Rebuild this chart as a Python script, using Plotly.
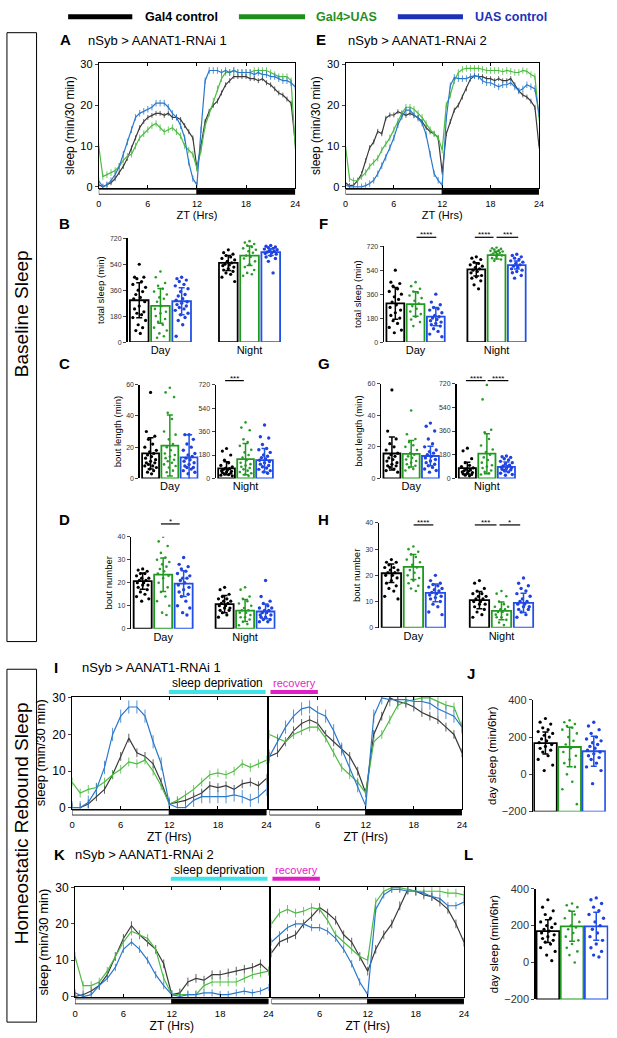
import plotly.graph_objects as go

# ---------------------------------------------------------------- data ----
ZT_HALF = [i / 2 for i in range(49)]   # 30-min bins ZT 0..24
ZT_HOUR = list(range(25))              # hourly readings ZT 0..24

# Panel A  (nSyb > AANAT1-RNAi 1, baseline)
A_gal4 = [0.5, 0, 0.5, 1, 2, 3.5, 5, 7, 9.5, 12, 14.5, 16, 17, 17.5, 18, 18, 17.5, 18, 17, 17,
          16.5, 15, 13.5, 12, 4.5, 10, 16, 18.5, 20, 21, 23, 25, 26, 27, 27, 27, 27, 26.5, 26.5, 26,
          26.5, 25.5, 25, 24, 23, 22.5, 21.5, 20.5, 11]
A_exp = [10, 2.5, 3, 3.5, 4, 5, 6.5, 7.5, 8, 10, 12, 13, 14, 15, 15.5, 14.5, 13.5, 14, 14.5, 13.5,
         12.5, 10, 9, 8, 4.5, 9, 15, 18, 21, 24, 26.5, 28, 28, 28.5, 28, 28, 28, 28, 28.5, 28.5,
         28.5, 28.5, 28, 27.5, 27, 27, 27, 26, 10]
A_uas = [1.5, 0, 0.5, 1.5, 3, 5, 8, 11, 14, 17, 18, 18.5, 19, 19.5, 20.5, 20.5, 20.5, 19.5, 18, 17,
         15, 12, 6, 2, 0.5, 14, 26, 28.5, 28.5, 28.5, 28, 28.5, 28, 28.5, 28, 28, 28, 28, 27.5, 28,
         27.5, 27.5, 27, 27, 26.5, 26, 26, 25.5, 24.5]
# Panel E  (nSyb > AANAT1-RNAi 2, baseline)
E_gal4 = [1, 0.3, 0.4, 1.5, 3.2, 6.4, 9.6, 11, 13.6, 13, 16.8, 17.6, 17.6, 18.4, 18, 17.5, 18, 17.5,
          17, 16, 14.5, 13.5, 13, 12, 3.5, 13, 16, 18.8, 20, 22, 24, 26.4, 27.2, 27, 27, 26.5, 26.5,
          26, 26.5, 26, 26, 26.5, 25, 23.5, 22.5, 22, 21, 19.5, 10]
E_exp = [10, 2, 1.5, 1.5, 2.5, 3.5, 5, 6, 7, 9, 10.5, 12, 14, 16, 18, 19.5, 19.5, 19, 18, 17, 15.5,
         14, 13, 12, 9, 20, 22.5, 26, 28, 28.8, 29, 29, 29, 29, 28.8, 28.5, 28.5, 28.5, 28.5, 28.2,
         28.5, 28.3, 28, 28, 28.5, 28.3, 27.5, 27, 17]
E_uas = [0.5, 0, 0, 0, 0, 0.3, 0.8, 1.6, 3.2, 5.2, 7.2, 9.6, 12, 15.2, 17.2, 18.8, 18.8, 17.6, 16.8,
         15.6, 12.8, 8, 3.2, 1.6, 0.4, 16.8, 24.8, 26.8, 26.5, 26.5, 26.5, 27, 27.2, 27, 26, 25.5,
         25.5, 25, 24.5, 25, 25, 25.5, 24.5, 23.5, 24, 25, 24.5, 24, 18]

# Panel I  (RNAi 1, baseline day + deprivation night | recovery day)
I1_gal4 = [0, 0, 1, 3, 5, 9, 14, 19, 15, 14, 12, 7, 1, 1.5, 2, 3, 4, 6, 5.5, 6, 5, 6.5, 7, 6, 8]
I1_exp = [7, 4, 5, 5.5, 7, 9, 10.5, 12.5, 12, 13, 10, 6, 1, 2, 3.5, 5, 7, 9, 9.5, 9, 10, 12, 11, 12, 13]
I1_uas = [0, 0, 1.5, 5, 11, 20, 25, 27.5, 27.5, 25, 18, 12, 1, 0, 0, 2, 3, 3, 3, 3, 3.5, 3, 2, 3, 5]
I2_gal4 = [14, 15, 18, 21, 23, 24, 23, 20, 18, 16, 14, 10, 4, 20, 25, 30, 29, 28.5, 27.5, 26, 25, 24, 22, 20, 15]
I2_exp = [20, 19, 18, 20, 21, 22, 22, 19, 15, 11, 9, 7, 4, 18, 20, 24, 28, 29, 29.5, 30, 30, 29, 28, 27.5, 22]
I2_uas = [14, 18, 22, 25, 27, 27.5, 26, 25, 21, 16, 11, 6, 0.5, 25, 30, 29.5, 29.5, 29.5, 29, 29, 28.5, 27, 26, 25, 22]
# Panel K  (RNAi 2)
K1_gal4 = [0, 0.5, 1.5, 3, 6, 11, 16, 19.5, 17, 15, 13, 9, 0.5, 1, 4, 5, 4.5, 6, 6, 6.5, 7, 7.5, 8, 9, 7]
K1_exp = [11, 3, 3, 4, 7, 11, 15, 18, 17, 16, 13, 5, 0.5, 0.5, 0.5, 0.5, 3, 4, 4, 4, 4, 5, 6, 6.5, 7]
K1_uas = [1, 0, 0.5, 3, 5, 8, 13, 15, 13, 10, 6, 3, 0.5, 0, 0.5, 0.5, 1, 1, 0.5, 0.5, 1, 1.5, 1, 1.5, 2.5]
K2_gal4 = [12, 15, 16, 17, 20, 22, 24.5, 23, 21, 17, 15, 11, 7, 13, 17, 20, 25, 29.5, 29, 28, 27.5, 26, 24, 20, 15]
K2_exp = [20, 23, 24, 23, 23.5, 24.5, 24, 21, 17, 15, 13, 11, 10, 26, 29, 30, 30, 29.5, 29, 29, 29, 29, 28.5, 28.5, 28]
K2_uas = [15, 17, 19, 20, 20, 19, 19, 18, 16, 13, 9, 4, 0.5, 24, 28, 29.5, 29.5, 29, 29, 28.5, 27.5, 27, 25, 25, 26]

# SEM used for the error ticks on each time course
ERR_A = [0.6, 0.8, 0.8]
ERR_E = [0.6, 0.8, 0.8]
ERR_I = [1.2, 1.2, 1.8]
ERR_K = [1.2, 1.2, 1.0]

# ---------------- bar panels: means, error, individual flies -------------
# order in each list: [Day, Night]
B_mean = {"gal4": [290, 549], "exp": [251, 599], "uas": [283, 624]}
B_sd = {"gal4": [121, 52], "exp": [121, 68], "uas": [94, 23]}
B_dots = {
    "gal4": [[540, 450, 450, 440, 420, 400, 380, 360, 350, 330, 310, 300, 280, 250, 230, 210, 200, 190, 170, 150, 120, 100, 80, 60],
             [640, 620, 610, 600, 590, 580, 570, 560, 550, 540, 535, 530, 520, 510, 500, 490, 480, 470, 450, 420]],
    "exp": [[490, 450, 410, 390, 370, 350, 330, 310, 300, 280, 250, 230, 210, 200, 180, 160, 140, 120, 100, 80, 60, 40, 30],
            [700, 690, 680, 670, 660, 650, 640, 630, 620, 600, 590, 580, 560, 540, 520, 500, 480, 470, 460]],
    "uas": [[450, 440, 430, 420, 400, 390, 370, 350, 330, 320, 300, 290, 280, 270, 260, 250, 240, 230, 220, 200, 190, 170, 150, 120, 40],
            [670, 665, 660, 655, 650, 645, 640, 635, 630, 625, 620, 615, 610, 600, 590, 580, 560, 480]],
}
C_mean = {"gal4": [16, 78], "exp": [21, 148], "uas": [13.5, 140]}
C_sd = {"gal4": [10, 50], "exp": [19.5, 120], "uas": [14.5, 90]}
C_dots = {
    "gal4": [[55, 30, 27, 25, 22, 20, 18, 17, 16, 15, 14, 13, 12, 11, 10, 10, 9, 8, 8, 7, 6, 5, 4, 3],
             [230, 210, 180, 140, 120, 100, 90, 80, 75, 70, 65, 60, 55, 50, 45, 40, 35, 30, 25, 20]],
    "exp": [[58, 55, 52, 42, 38, 30, 28, 25, 22, 20, 18, 16, 15, 14, 13, 12, 11, 10, 9, 8, 7, 5, 4],
            [430, 390, 370, 300, 280, 250, 220, 200, 180, 160, 140, 120, 110, 100, 90, 80, 70, 60, 50, 40, 30, 20]],
    "uas": [[28, 28, 25, 22, 20, 18, 16, 15, 14, 13, 12, 11, 10, 9, 8, 7, 7, 6, 5, 4, 3],
            [410, 320, 310, 260, 230, 220, 200, 180, 170, 160, 150, 140, 130, 120, 110, 100, 90, 80, 70, 60, 50, 40]],
}
D_mean = {"gal4": [20.7, 10.7], "exp": [23.5, 7.9], "uas": [19.6, 7.5]}
D_sd = {"gal4": [3.5, 3.7], "exp": [7.3, 4.8], "uas": [5.6, 3.2]}
D_dots = {
    "gal4": [[26, 25.5, 25, 24, 24, 23, 22, 22, 21, 21, 20, 20, 19, 19, 18, 17, 16, 15, 14, 13, 12],
             [18, 17, 15, 14, 13, 13, 12, 12, 11, 11, 10, 10, 9, 9, 8, 8, 7, 6, 5]],
    "exp": [[40, 38, 36, 33, 31, 30, 29, 28, 27, 26, 25, 24, 23, 22, 20, 18, 16, 14, 12, 10, 7, 6],
            [18, 17, 14, 13, 12, 11, 10, 9, 8, 8, 7, 7, 6, 5, 5, 4, 3, 2, 1.5]],
    "uas": [[31, 28, 27, 26, 25, 24, 23, 22, 22, 21, 20, 19, 18, 17, 16, 15, 14, 12, 10, 9, 7, 6],
            [21, 14, 12, 11, 10, 9, 9, 8, 8, 7, 7, 6, 6, 5, 5, 4, 4, 3, 3]],
}
F_mean = {"gal4": [290, 546], "exp": [285, 653], "uas": [191, 578]}
F_sd = {"gal4": [119, 50], "exp": [92, 29], "uas": [69, 30]}
F_dots = {
    "gal4": [[540, 450, 440, 420, 400, 380, 360, 340, 320, 300, 280, 260, 240, 220, 200, 180, 160, 140, 110, 90, 70],
             [640, 630, 620, 600, 590, 580, 570, 560, 550, 540, 530, 520, 500, 490, 480, 460, 430, 400]],
    "exp": [[450, 420, 400, 380, 370, 350, 330, 310, 290, 270, 250, 230, 210, 190, 170, 150, 120],
            [710, 705, 700, 695, 690, 685, 680, 675, 670, 665, 660, 655, 650, 640, 630, 620, 610]],
    "uas": [[360, 300, 280, 260, 250, 240, 220, 200, 190, 180, 170, 160, 150, 140, 130, 120, 100, 80, 60, 40],
            [660, 650, 640, 630, 620, 610, 600, 590, 580, 570, 560, 550, 540, 530, 520, 500, 480]],
}
G_mean = {"gal4": [15.8, 78], "exp": [15.6, 188], "uas": [14.2, 88]}
G_sd = {"gal4": [10.5, 45], "exp": [8.4, 152], "uas": [6.2, 37]}
G_dots = {
    "gal4": [[56, 30, 25, 22, 20, 18, 16, 15, 14, 13, 12, 11, 10, 9, 8, 8, 7, 6, 5, 4],
             [230, 210, 150, 120, 100, 90, 80, 70, 65, 60, 55, 50, 45, 40, 35, 30, 25, 20]],
    "exp": [[43, 28, 25, 23, 21, 20, 18, 16, 15, 14, 13, 12, 11, 10, 9, 8, 7, 6, 5],
            [710, 600, 370, 350, 300, 250, 220, 200, 180, 160, 140, 120, 100, 90, 80, 60, 50, 40, 30]],
    "uas": [[35, 33, 30, 25, 22, 20, 18, 17, 16, 15, 14, 13, 12, 11, 10, 9, 8, 7, 6, 5, 4],
            [170, 165, 160, 150, 140, 130, 120, 110, 100, 95, 90, 85, 80, 75, 70, 65, 60, 50, 40, 30, 25]],
}
H_mean = {"gal4": [20.8, 10.5], "exp": [23.2, 6.4], "uas": [13.3, 9.5]}
H_sd = {"gal4": [3.5, 3.3], "exp": [4.8, 3.4], "uas": [3.4, 3.7]}
H_dots = {
    "gal4": [[26, 25, 25, 24, 23, 23, 22, 22, 21, 21, 20, 20, 19, 18, 17, 16, 15, 14, 12, 11],
             [18, 17, 15, 14, 13, 13, 12, 12, 11, 11, 10, 10, 9, 9, 8, 7, 6, 5, 4]],
    "exp": [[31, 30, 29, 28, 27, 26, 25, 24, 23, 22, 21, 20, 19, 18, 17, 16, 15, 14],
            [14, 13, 12, 10, 9, 8, 8, 7, 7, 6, 6, 5, 5, 4, 4, 3, 2, 1]],
    "uas": [[20, 18, 17, 16.5, 16, 15.5, 15, 14.5, 14, 13.5, 13, 12.5, 12, 11.5, 11, 10, 9, 8, 6, 5],
            [19, 17, 16, 15, 14, 13, 12, 11, 10, 10, 9, 9, 8, 8, 7, 7, 6, 5, 4]],
}
J_mean = {"gal4": [168], "exp": [147], "uas": [124]}
J_sd = {"gal4": [59], "exp": [106], "uas": [80]}
J_dots = {
    "gal4": [[300, 280, 270, 250, 240, 230, 220, 210, 200, 190, 180, 170, 160, 150, 140, 130, 120, 100, 80, 50, 20]],
    "exp": [[290, 280, 270, 260, 250, 240, 220, 200, 180, 160, 140, 120, 100, 80, 60, 40, 0, -40, -80, -160]],
    "uas": [[280, 260, 240, 220, 200, 190, 180, 170, 160, 150, 140, 130, 120, 110, 100, 90, 80, 60, 40, 20, -50]],
}
L_mean = {"gal4": [170], "exp": [196], "uas": [196]}
L_sd = {"gal4": [62], "exp": [81], "uas": [76]}
L_dots = {
    "gal4": [[340, 300, 280, 260, 240, 220, 210, 200, 190, 180, 170, 160, 150, 140, 130, 120, 110, 100, 80, 60, 40, 10]],
    "exp": [[320, 310, 300, 280, 260, 240, 220, 200, 190, 180, 160, 140, 120, 100, 80, 60, 40, 0]],
    "uas": [[350, 340, 320, 300, 280, 260, 240, 220, 200, 180, 160, 140, 120, 100, 80, 60, 40, 30]],
}

GROUPS = ["gal4", "exp", "uas"]
LEGEND = ["Gal4 control", "Gal4>UAS", "UAS control"]

# ---------------------------------------------------------------- style ---
W, H = 617, 1038
FONT = "Liberation Sans, Arial, sans-serif"
LINE_C = {"gal4": "#3a3a3a", "exp": "#4dbb43", "uas": "#2a78cc"}
BAR_C = {"gal4": "#000000", "exp": "#1f9a1f", "uas": "#2050e8"}
DOT_C = {"gal4": "#000000", "exp": "#2a9a2a", "uas": "#2040e0"}
DOT_S = {"gal4": 3.2, "exp": 2.6, "uas": 3.4}
LEG_C = ["#000000", "#1f8f1f", "#1c30b8"]
JIT = [0, -0.22, 0.22, -0.11, 0.11, -0.3, 0.3, -0.05, 0.16, -0.16, 0.05, -0.26, 0.26]


def fx(p):
    return p / W


def fy(p):
    return 1 - p / H


fig = go.Figure()
LAY, SHAPES, ANN = {}, [], []
NAX = [0]


def new_ax():
    NAX[0] += 1
    return "" if NAX[0] == 1 else str(NAX[0])


def text(x, y, s, size, color="black", bold=False, xanchor="center", angle=0):
    ANN.append(dict(x=fx(x), y=fy(y), xref="paper", yref="paper", text=("<b>%s</b>" % s) if bold else s,
                    showarrow=False, xanchor=xanchor, yanchor="middle", textangle=angle,
                    font=dict(size=size, color=color, family=FONT)))


def ts_panel(box, xs, series, errs, tickvals, show_y, ytitle, ytf, ylf, xtf, xlf):
    x0, x1, y0, y1 = box
    s = new_ax()
    LAY["xaxis" + s] = dict(domain=[fx(x0), fx(x1)], anchor="y" + s, range=[0, 24],
                            tickvals=tickvals, ticktext=[str(v) for v in tickvals],
                            ticks="inside", ticklen=3, tickcolor="black", showline=True,
                            mirror="ticks", linecolor="black", linewidth=1, showgrid=False,
                            zeroline=False, tickfont=dict(size=xtf), ticklabelstandoff=7,
                            title=dict(text="ZT (Hrs)", font=dict(size=xlf), standoff=2))
    LAY["yaxis" + s] = dict(domain=[fy(y1), fy(y0)], anchor="x" + s, range=[-0.25, 30.25],
                            tickvals=[0, 10, 20, 30], showticklabels=show_y,
                            ticks="outside" if show_y else "", ticklen=3, showline=True,
                            mirror=True, linecolor="black", linewidth=1, showgrid=False,
                            zeroline=False, tickfont=dict(size=ytf),
                            title=dict(text=ytitle, font=dict(size=ylf), standoff=3))
    for g, ys, e in zip(GROUPS, series, errs):
        fig.add_trace(go.Scatter(x=xs, y=ys, mode="lines", line=dict(color=LINE_C[g], width=1.2),
                                 error_y=dict(type="constant", value=e, color=LINE_C[g],
                                              thickness=0.8, width=0),
                                 xaxis="x" + s, yaxis="y" + s, showlegend=False, hoverinfo="skip"))
    ld0, ld1 = y1 + 1.5, y1 + 6.5
    SHAPES.append(dict(type="rect", xref="x" + s, yref="paper", x0=0, x1=12, y0=fy(ld1), y1=fy(ld0),
                       fillcolor="white", line=dict(color="black", width=0.8)))
    SHAPES.append(dict(type="rect", xref="x" + s, yref="paper", x0=12, x1=24, y0=fy(ld1), y1=fy(ld0),
                       fillcolor="black", line=dict(color="black", width=0.8)))


def bar_panel(box, xrange, yrange, yticks, ytitle, pos, means, sds, dots, tickpos, ticktext,
              base=None, ytf=7, ylf=9.5, xtf=11, width=0.88):
    x0, x1, y0, y1 = box
    s = new_ax()
    LAY["xaxis" + s] = dict(domain=[fx(x0), fx(x1)], anchor="y" + s, range=xrange, showline=False,
                            ticks="", tickvals=tickpos, ticktext=ticktext, showgrid=False,
                            zeroline=False, tickfont=dict(size=xtf))
    LAY["yaxis" + s] = dict(domain=[fy(y1), fy(y0)], anchor="x" + s, range=yrange, tickvals=yticks,
                            ticks="outside", ticklen=3, tickwidth=1, showline=True, linewidth=1.6,
                            linecolor="black", showgrid=False, zeroline=False,
                            tickfont=dict(size=ytf, color="#333"),
                            title=dict(text=ytitle, font=dict(size=ylf), standoff=3))
    for g, p in zip(GROUPS, pos):
        xs, ys = [], []
        for pp, vals in zip(p, dots[g]):
            for i, v in enumerate(vals):
                xs.append(pp + JIT[i % len(JIT)])
                ys.append(v)
        fig.add_trace(go.Scatter(x=xs, y=ys, mode="markers",
                                 marker=dict(size=DOT_S[g], color=DOT_C[g], line=dict(width=0)),
                                 xaxis="x" + s, yaxis="y" + s, showlegend=False, hoverinfo="skip"))
        hts = means[g] if base is None else [m - base for m in means[g]]
        fig.add_trace(go.Bar(x=p, y=hts, base=base, width=width,
                             marker=dict(color="rgba(0,0,0,0)", line=dict(color=BAR_C[g], width=1.8)),
                             xaxis="x" + s, yaxis="y" + s, showlegend=False, hoverinfo="skip"))
        fig.add_trace(go.Scatter(x=p, y=means[g], mode="markers",
                                 marker=dict(size=1, color="rgba(0,0,0,0)"),
                                 error_y=dict(type="data", array=sds[g], color=BAR_C[g],
                                              thickness=1.5, width=3),
                                 xaxis="x" + s, yaxis="y" + s, showlegend=False, hoverinfo="skip"))


def sig(xa, xb, y, stars):
    SHAPES.append(dict(type="line", xref="paper", yref="paper", x0=fx(xa), x1=fx(xb), y0=fy(y), y1=fy(y),
                       line=dict(color="black", width=1.2)))
    text((xa + xb) / 2, y - 2.5, stars, 8)


# ------------------------------------------------------------- legend -----
for (xa, xb), (tx, lab), c in zip([(66, 131), (239, 306), (400, 466)],
                                  [(142, LEGEND[0]), (315, LEGEND[1]), (476, LEGEND[2])], LEG_C):
    SHAPES.append(dict(type="line", xref="paper", yref="paper", x0=fx(xa), x1=fx(xb), y0=fy(11), y1=fy(11),
                       line=dict(color=c, width=5)))
    text(tx, 11, lab, 12.5, color=c, bold=True, xanchor="left")

# side boxes
SHAPES.append(dict(type="rect", xref="paper", yref="paper", x0=fx(4), x1=fx(34), y0=fy(643), y1=fy(27),
                   line=dict(color="black", width=1)))
SHAPES.append(dict(type="rect", xref="paper", yref="paper", x0=fx(4), x1=fx(34), y0=fy(1028), y1=fy(671),
                   line=dict(color="black", width=1)))
text(19, 311, "Baseline Sleep", 19, angle=-90)
text(19, 827, "Homeostatic Rebound Sleep", 19, angle=-90)

# ---------------------------------------------------------- time courses --
ts_panel((97, 296, 58, 184), ZT_HALF, [A_gal4, A_exp, A_uas], ERR_A, [0, 6, 12, 18, 24], True,
         "sleep (min/30 min)", 11, 12, 9, 11)
ts_panel((347, 543, 58, 184), ZT_HALF, [E_gal4, E_exp, E_uas], ERR_E, [0, 6, 12, 18, 24], True,
         "sleep (min/30 min)", 11, 12, 9, 11)
ts_panel((70, 267, 699, 812), ZT_HOUR, [I1_gal4, I1_exp, I1_uas], ERR_I, [0, 6, 12, 18, 24], True,
         "sleep (min/30 min)", 12, 13, 9.5, 12)
ts_panel((270, 465, 699, 812), ZT_HOUR, [I2_gal4, I2_exp, I2_uas], ERR_I, [6, 12, 18, 24], False,
         "", 12, 13, 9.5, 12)
ts_panel((73, 269, 891, 1003), ZT_HOUR, [K1_gal4, K1_exp, K1_uas], ERR_K, [0, 6, 12, 18, 24], True,
         "sleep (min/30 min)", 12, 13, 9.5, 12)
ts_panel((272, 467, 891, 1003), ZT_HOUR, [K2_gal4, K2_exp, K2_uas], ERR_K, [6, 12, 18, 24], False,
         "", 12, 13, 9.5, 12)

# --------------------------------------------------------------- bars -----
P2 = [[0, 4.2], [1, 5.2], [2, 6.2]]
P2b = [[0, 4], [1, 5], [2, 6]]
P1 = [[0], [1], [2]]
T720 = [0, 180, 360, 540, 720]


def split(d, k):
    return {g: [d[g][k]] for g in GROUPS}


bar_panel((126.2, 282, 235, 340), [-0.55, 6.7], [0, 720], T720, "total sleep (min)",
          P2, B_mean, B_sd, B_dots, [1, 5.2], ["Day", "Night"])
bar_panel((138.8, 198.3, 383, 478), [-0.55, 2.5], [0, 60], [0, 20, 40, 60], "bout length (min)",
          P1, split(C_mean, 0), split(C_sd, 0), split(C_dots, 0), [1], ["Day"])
bar_panel((215.9, 274.6, 383, 478), [-0.55, 2.5], [0, 720], T720, "",
          P1, split(C_mean, 1), split(C_sd, 1), split(C_dots, 1), [1], ["Night"])
bar_panel((130.1, 276.4, 537, 630), [-0.55, 6.5], [0, 40], [0, 10, 20, 30, 40], "bout number",
          P2b, D_mean, D_sd, D_dots, [1, 5], ["Day", "Night"])
bar_panel((386.2, 530.8, 243, 340), [-0.55, 6.5], [0, 720], T720, "total sleep (min)",
          P2b, F_mean, F_sd, F_dots, [1, 5], ["Day", "Night"])
bar_panel((383.3, 442.8, 382, 478), [-0.55, 2.5], [0, 60], [0, 20, 40, 60], "bout length (min)",
          P1, split(G_mean, 0), split(G_sd, 0), split(G_dots, 0), [1], ["Day"])
bar_panel((459.6, 519.9, 382, 478), [-0.55, 2.5], [0, 720], T720, "",
          P1, split(G_mean, 1), split(G_sd, 1), split(G_dots, 1), [1], ["Night"])
bar_panel((381.2, 538.5, 523, 629), [-0.55, 6.5], [0, 40], [0, 10, 20, 30, 40], "bout number",
          P2b, H_mean, H_sd, H_dots, [1, 5], ["Day", "Night"])
bar_panel((537.3, 610.8, 702, 815), [-0.5, 2.5], [-200, 400], [-200, 0, 200, 400],
          "day sleep (min/6hr)", P1, J_mean, J_sd, J_dots, [], [], base=-200, ytf=11, ylf=11.5,
          width=0.94)
bar_panel((539.8, 613.3, 893, 1005), [-0.5, 2.5], [-200, 400], [-200, 0, 200, 400],
          "day sleep (min/6hr)", P1, L_mean, L_sd, L_dots, [], [], base=-200, ytf=11, ylf=11.5,
          width=0.94)

# significance marks
sig(225, 244, 379, "***")
sig(419, 439, 234, "****")
sig(478, 497, 234, "****")
sig(500, 522, 234, "***")
sig(469, 489, 379, "****")
sig(491, 512, 379, "****")
sig(160, 179, 524, "*")
sig(416, 436, 525, "****")
sig(478, 500, 525, "***")
sig(503, 524, 525, "*")

# ---------------------------------------------------- letters & titles ----
for lx, ly, L in [(63, 34, "A"), (322, 34, "E"), (62, 220, "B"), (325, 220, "F"), (62, 362, "C"),
                  (325, 362, "G"), (62, 520, "D"), (325, 520, "H"), (54, 669, "I"), (474, 675, "J"),
                  (57, 858, "K"), (472, 858, "L")]:
    text(lx, ly, L, 15, bold=True)
text(84, 35, "nSyb &gt; AANAT1-RNAi 1", 13, xanchor="left")
text(348, 35, "nSyb &gt; AANAT1-RNAi 2", 13, xanchor="left")
text(78, 669, "nSyb &gt; AANAT1-RNAi 1", 13, xanchor="left")
text(71, 858, "nSyb &gt; AANAT1-RNAi 2", 13, xanchor="left")

# deprivation / recovery bars
for (cy, ty), (ca, cb), (ma, mb) in [((694, 685), (168, 266), (271, 319)),
                                     ((883, 874), (170, 268), (273, 321))]:
    SHAPES.append(dict(type="line", xref="paper", yref="paper", x0=fx(ca), x1=fx(cb), y0=fy(cy), y1=fy(cy),
                       line=dict(color="#3fe3ea", width=4)))
    SHAPES.append(dict(type="line", xref="paper", yref="paper", x0=fx(ma), x1=fx(mb), y0=fy(cy), y1=fy(cy),
                       line=dict(color="#e21fc4", width=4)))
    text((ca + cb) / 2, ty, "sleep deprivation", 12)
    text((ma + mb) / 2, ty, "recovery", 11, color="#e21fc4")

fig.update_layout(**LAY)
fig.update_layout(width=W, height=H, margin=dict(l=0, r=0, t=0, b=0), paper_bgcolor="white",
                  plot_bgcolor="white", barmode="overlay", showlegend=False, hovermode=False,
                  font=dict(family=FONT, color="black"), shapes=SHAPES, annotations=ANN)
fig.write_html("out.html", config={"displayModeBar": False, "staticPlot": True},
               post_script="document.body.style.margin='0px';document.body.style.padding='0px';")
